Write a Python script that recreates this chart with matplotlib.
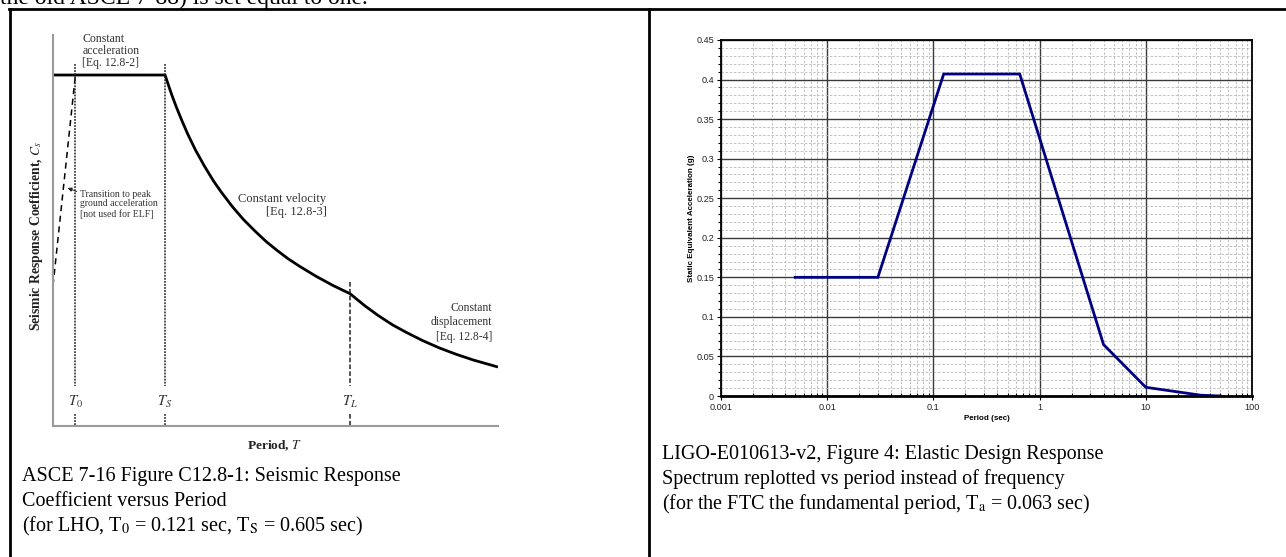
"""Two-panel page crop: ASCE 7-16 schematic spectrum | LIGO spectrum vs period."""
import matplotlib
matplotlib.use("Agg")
import matplotlib.pyplot as plt
from matplotlib.lines import Line2D
from matplotlib.ticker import FixedLocator, LogLocator, MultipleLocator, NullFormatter

W, H = 1286, 557

# ---- left panel: schematic Cs curve (T in units of Ts, Cs in units of plateau) ----
cs_period = [0.0, 1.0, 1.03, 1.06, 1.1, 1.15, 1.2, 1.27, 1.35, 1.43, 1.5, 1.6, 1.7,
             1.8, 1.9, 2.0, 2.1, 2.2, 2.35, 2.5, 2.65, 2.78, 2.9, 3.03, 3.15, 3.3,
             3.45, 3.6, 3.75, 3.97]
cs_value = [1.0, 1.0, 0.971, 0.943, 0.909, 0.870, 0.833, 0.787, 0.741, 0.699, 0.667,
            0.625, 0.588, 0.556, 0.526, 0.500, 0.476, 0.455, 0.426, 0.400, 0.377,
            0.343, 0.315, 0.288, 0.267, 0.243, 0.222, 0.204, 0.188, 0.168]
pga_period = [0.0, 0.2]
pga_value = [0.40, 1.0]
t_marks = [0.2, 1.0, 2.65]
t_labels = ["$T_0$", "$T_S$", "$T_L$"]
t_tops = [1.03, 1.03, 0.41]

# ---- right panel: LIGO-E010613-v2 spectrum replotted vs period ----
ligo_period = [0.005, 0.03, 0.125, 0.65, 4.0, 10.0, 33.0, 50.0]
ligo_accel = [0.15, 0.15, 0.407, 0.407, 0.065, 0.011, 0.001, 0.0]
y_ticks = [0, 0.05, 0.1, 0.15, 0.2, 0.25, 0.3, 0.35, 0.4, 0.45]
y_tick_labels = ["0", "0.05", "0.1", "0.15", "0.2", "0.25", "0.3", "0.35", "0.4", "0.45"]
x_ticks = [0.001, 0.01, 0.1, 1, 10, 100]
x_tick_labels = ["0.001", "0.01", "0.1", "1", "10", "100"]

SERIF = "Liberation Serif"
SANS = "Liberation Sans"
plt.rcParams["mathtext.fontset"] = "stix"


def fx(x):
    return x / W


def fy(y):
    return 1 - y / H


def rect(x0, y0, x1, y1):
    return [fx(x0), fy(y1), (x1 - x0) / W, (y1 - y0) / H]


fig = plt.figure(figsize=(W / 100, H / 100), dpi=100)

# table frame of the document
for xs, ys in (([9, W], [9, 9]), ([9.5, 9.5], [9, H]), ([649, 649], [9, H])):
    fig.add_artist(Line2D([fx(v) for v in xs], [fy(v) for v in ys],
                          transform=fig.transFigure, color="k", lw=2))
fig.text(fx(0), fy(4), "the old ASCE 7-88) is set equal to one.", family=SERIF,
         fontsize=17, va="baseline")

# ---- left schematic ----
ax1 = fig.add_axes(rect(53, 35, 498, 426))
ax1.set_xlim(0, 3.97)
ax1.set_ylim(0, 1.114)
for s in ("top", "right"):
    ax1.spines[s].set_visible(False)
for s in ("left", "bottom"):
    ax1.spines[s].set_color("#9a9a9a")
    ax1.spines[s].set_linewidth(1.5)
ax1.set_xticks([])
ax1.set_yticks([])
ax1.plot(cs_period, cs_value, color="k", lw=2, solid_capstyle="butt",
         solid_joinstyle="round")
ax1.plot(pga_period, pga_value, color="k", lw=1.1, ls=(0, (4, 3)))
for t, lab, top in zip(t_marks, t_labels, t_tops):
    ls = (0, (3, 1.5)) if lab == "$T_L$" else (0, (1.2, 0.8))
    ax1.plot([t, t], [top, 0.115], color="#222", lw=1.1, ls=ls)
    ax1.plot([t, t], [0.035, 0], color="#222", lw=1.1, ls=ls)
    ax1.text(t, 0.068, lab, ha="center", va="center", fontsize=10.5, color="#333")

ax1.text(0.26, 1.068, "Constant\nacceleration\n[Eq. 12.8-2]", family=SERIF,
         fontsize=8.5, color="#333", va="center", linespacing=1.0)
ax1.text(0.24, 0.632, "Transition to peak\nground acceleration\n[not used for ELF]",
         family=SERIF, fontsize=7, color="#333", va="center", linespacing=1.1)
ax1.annotate("", xy=(0.107, 0.681), xytext=(0.235, 0.665),
             arrowprops=dict(arrowstyle="-|>", color="#222", lw=0.7,
                             mutation_scale=6))
ax1.text(2.44, 0.628, "Constant velocity\n[Eq. 12.8-3]", family=SERIF,
         fontsize=9, color="#333", ha="right", va="center", linespacing=1.05,
         multialignment="right")
ax1.text(3.92, 0.295, "Constant\ndisplacement\n[Eq. 12.8-4]", family=SERIF,
         fontsize=8.4, color="#333", ha="right", va="center", linespacing=1.25,
         multialignment="right")
fig.text(fx(37), fy(236), "Seismic Response Coefficient, $C_s$", family=SERIF,
         fontsize=9.8, weight="bold", rotation=90, ha="center", va="center",
         color="#222")
fig.text(fx(275), fy(446), "Period, $T$", family=SERIF, fontsize=9.6,
         weight="bold", ha="center", va="center", color="#222")

# ---- right LIGO chart ----
ax2 = fig.add_axes(rect(721, 40, 1252, 396))
ax2.set_xscale("log")
ax2.set_xlim(0.001, 100)
ax2.set_ylim(0, 0.45)
ax2.xaxis.set_major_locator(FixedLocator(x_ticks))
ax2.set_xticklabels(x_tick_labels)
ax2.xaxis.set_minor_locator(LogLocator(base=10, subs=range(2, 10)))
ax2.xaxis.set_minor_formatter(NullFormatter())
ax2.set_yticks(y_ticks)
ax2.set_yticklabels(y_tick_labels)
ax2.yaxis.set_minor_locator(MultipleLocator(0.01))
ax2.grid(which="minor", color="#b8b8b8", lw=0.6, ls=(0, (3, 2)))
ax2.grid(which="major", color="#3a3a3a", lw=1.0, ls="-")
ax2.set_axisbelow(True)
for s in ax2.spines.values():
    s.set_color("k")
    s.set_linewidth(1.3)
ax2.spines["bottom"].set_linewidth(2)
ax2.tick_params(which="both", labelsize=6.6, colors="k", labelcolor="#222",
                width=0.8, pad=2)
ax2.tick_params(which="major", length=3)
ax2.tick_params(which="minor", length=2)
ax2.tick_params(axis="x", which="minor", direction="in")
for lab in ax2.get_xticklabels() + ax2.get_yticklabels():
    lab.set_family(SANS)
ax2.plot(ligo_period, ligo_accel, color="#000080", lw=2, solid_joinstyle="miter")
fig.text(fx(692), fy(218), "Static Equivalent Acceleration (g)", family=SANS,
         fontsize=5.8, weight="bold", rotation=90, ha="center", va="center")
fig.text(fx(987), fy(418), "Period (sec)", family=SANS, fontsize=5.8,
         weight="bold", ha="center", va="center")

# ---- captions ----
left_caption = ["ASCE 7-16 Figure C12.8-1: Seismic Response",
                "Coefficient versus Period",
                "(for LHO, T$_0$ = 0.121 sec, T$_\\mathrm{S}$ = 0.605 sec)"]
right_caption = ["LIGO-E010613-v2, Figure 4: Elastic Design Response",
                 "Spectrum replotted vs period instead of frequency",
                 "(for the FTC the fundamental period, T$_\\mathrm{a}$ = 0.063 sec)"]
for i, line in enumerate(left_caption):
    fig.text(fx(22), fy(477 + 24.5 * i), line, family=SERIF, fontsize=14.5,
             va="center")
for i, line in enumerate(right_caption):
    fig.text(fx(662), fy(455 + 24.5 * i), line, family=SERIF, fontsize=14.5,
             va="center")

fig.savefig("out.png", dpi=100)
